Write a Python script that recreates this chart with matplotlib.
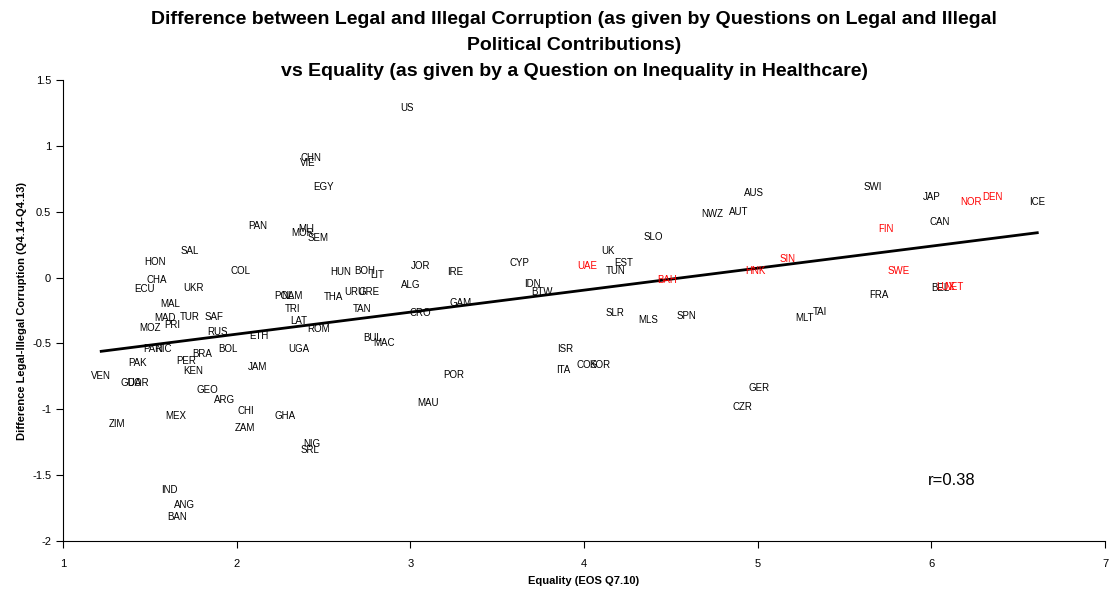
import matplotlib
matplotlib.use("Agg")
import matplotlib.pyplot as plt
import numpy as np

plt.rcParams['font.family'] = ['Liberation Sans', 'DejaVu Sans']

countries = ["US", "CHN", "VIE", "EGY", "PAN", "MLI", "MOR", "SEM", "SAL", "HON",
             "COL", "CHA", "ECU", "UKR", "MAL", "MAD", "TUR", "SAF", "MOZ", "PRI",
             "RUS", "ETH", "PAR", "NIC", "PAK", "BRA", "PER", "KEN", "BOL", "VEN",
             "GUA", "DOR", "GEO", "ARG", "MEX", "ZIM", "CHI", "ZAM", "GHA", "JAM",
             "UGA", "NIG", "SRL", "IND", "ANG", "BAN", "POL", "NAM", "TRI", "LAT",
             "ROM", "THA", "HUN", "BOH", "LIT", "URU", "GRE", "TAN", "ALG", "JOR",
             "IRE", "GAM", "CRO", "BUL", "MAC", "POR", "MAU", "CYP", "UAE", "UK",
             "EST", "TUN", "SLO", "IDN", "BTW", "BAH", "SLR", "MLS", "SPN", "ISR",
             "ITA", "COS", "KOR", "GER", "CZR", "AUS", "NWZ", "AUT", "SWI", "FIN",
             "SIN", "HNK", "SWE", "FRA", "MLT", "TAI", "JAP", "NOR", "DEN", "ICE",
             "CAN", "BEL", "LUX", "NET"]

equality = [2.98, 2.43, 2.41, 2.50, 2.12, 2.40, 2.38, 2.47, 1.73, 1.53,
            2.02, 1.54, 1.47, 1.75, 1.62, 1.59, 1.73, 1.87, 1.50, 1.63,
            1.89, 2.13, 1.52, 1.58, 1.43, 1.80, 1.71, 1.75, 1.95, 1.22,
            1.39, 1.43, 1.83, 1.93, 1.65, 1.31, 2.05, 2.05, 2.28, 2.12,
            2.36, 2.43, 2.42, 1.61, 1.70, 1.66, 2.27, 2.32, 2.32, 2.36,
            2.47, 2.56, 2.60, 2.74, 2.81, 2.68, 2.76, 2.72, 3.00, 3.06,
            3.26, 3.29, 3.06, 2.78, 2.85, 3.25, 3.10, 3.63, 4.02, 4.14,
            4.23, 4.18, 4.40, 3.70, 3.76, 4.48, 4.18, 4.37, 4.59, 3.89,
            3.88, 4.02, 4.09, 5.01, 4.91, 4.98, 4.74, 4.89, 5.66, 5.74,
            5.17, 4.99, 5.81, 5.70, 5.27, 5.36, 6.00, 6.23, 6.35, 6.61,
            6.05, 6.05, 6.08, 6.13]

difference = [1.29, 0.91, 0.87, 0.69, 0.39, 0.37, 0.34, 0.30, 0.20, 0.12,
              0.05, -0.02, -0.09, -0.08, -0.20, -0.31, -0.30, -0.30, -0.38, -0.36,
              -0.41, -0.44, -0.54, -0.54, -0.65, -0.58, -0.63, -0.71, -0.54, -0.75,
              -0.80, -0.80, -0.85, -0.93, -1.05, -1.11, -1.01, -1.14, -1.05, -0.68,
              -0.54, -1.26, -1.31, -1.61, -1.73, -1.82, -0.14, -0.14, -0.24, -0.33,
              -0.39, -0.15, 0.04, 0.05, 0.02, -0.11, -0.11, -0.24, -0.06, 0.09,
              0.04, -0.19, -0.27, -0.46, -0.50, -0.74, -0.95, 0.11, 0.09, 0.20,
              0.11, 0.05, 0.31, -0.05, -0.11, -0.02, -0.27, -0.32, -0.29, -0.54,
              -0.70, -0.66, -0.66, -0.84, -0.98, 0.64, 0.48, 0.50, 0.69, 0.37,
              0.14, 0.05, 0.05, -0.13, -0.31, -0.26, 0.61, 0.57, 0.61, 0.57,
              0.42, -0.08, -0.07, -0.07]

highlighted = ["UAE", "BAH", "HNK", "SIN", "FIN", "SWE", "NOR", "DEN", "LUX", "NET"]

x_ticks = [1, 2, 3, 4, 5, 6, 7]
y_ticks = [-2, -1.5, -1, -0.5, 0, 0.5, 1, 1.5]
y_tick_labels = ["-2", "-1.5", "-1", "-0.5", "0", "0.5", "1", "1.5"]
r_text = "r=0.38"

fig = plt.figure(figsize=(11.11, 5.93), dpi=100)
ax = fig.add_axes([63 / 1111, 52 / 593, 1042 / 1111, 461 / 593])

for name, xv, yv in zip(countries, equality, difference):
    col = "#ff0000" if name in highlighted else "black"
    ax.text(xv, yv, name, ha="center", va="center", fontsize=7, color=col)

xs = np.array(equality)
ys = np.array(difference)
slope, intercept = np.polyfit(xs, ys, 1)
xl = np.array([xs.min(), xs.max()])
ax.plot(xl, slope * xl + intercept, color="black", lw=2)

ax.set_xlim(1, 7)
ax.set_ylim(-2, 1.5)
ax.set_xticks(x_ticks)
ax.set_xticklabels([str(t) for t in x_ticks])
ax.set_yticks(y_ticks)
ax.set_yticklabels(y_tick_labels)
ax.tick_params(axis="both", labelsize=8, direction="out", length=5, width=0.8)
ax.tick_params(axis="x", pad=8)
ax.spines["top"].set_visible(False)
ax.spines["right"].set_visible(False)
ax.spines["left"].set_linewidth(0.8)
ax.spines["bottom"].set_linewidth(0.8)

ax.set_xlabel("Equality (EOS Q7.10)", fontsize=8, fontweight="bold", labelpad=5)
ax.set_ylabel("Difference Legal-Illegal Corruption (Q4.14-Q4.13)", fontsize=8,
              fontweight="bold", labelpad=4)

ax.text(6.12, -1.54, r_text, fontsize=12, ha="center", va="center")

fig.text(0.517, 1 - 11 / 593,
         "Difference between Legal and Illegal Corruption (as given by Questions on Legal and Illegal\n"
         "Political Contributions)\n"
         "vs Equality (as given by a Question on Inequality in Healthcare)",
         fontsize=14, fontweight="bold", ha="center", va="top", linespacing=1.68)

fig.savefig("out.png", dpi=100)
